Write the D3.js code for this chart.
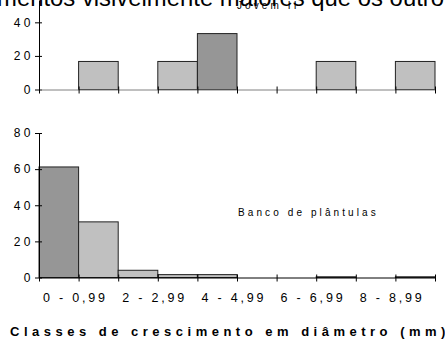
<!DOCTYPE html>
<html>
<head>
<meta charset="utf-8">
<script src="https://cdn.jsdelivr.net/npm/d3@7"></script>
<style>
  body { margin: 0; background: #fff; }
  svg { display: block; font-family: "Liberation Sans", Arial, sans-serif; }
</style>
</head>
<body>
<div id="chart"></div>
<script>
// diameter growth classes (mm)
const classes = ["0 - 0,99", "1 - 1,99", "2 - 2,99", "3 - 3,99", "4 - 4,99",
                 "5 - 5,99", "6 - 6,99", "7 - 7,99", "8 - 8,99", "9 - 9,99"];
// only every second class gets a label
const shownLabels = ["0 - 0,99", "2 - 2,99", "4 - 4,99", "6 - 6,99", "8 - 8,99"];

// percentages per class
const jovemII   = [0, 16.7, 0, 16.7, 33.3, 0, 0, 16.7, 0, 16.7];
const plantulas = [61.2, 30.8, 4.0, 1.6, 1.6, 0, 0, 0.4, 0, 0.4];

// which bar is shaded dark in each panel
const darkJovem = "4 - 4,99";
const darkBanco = "0 - 0,99";

const topTicks = [0, 20, 40];
const bottomTicks = [0, 20, 40, 60, 80];

const width = 445, height = 339;
const light = "#c0c0c0", dark = "#969696";

const svg = d3.select("#chart").append("svg")
    .attr("width", width)
    .attr("height", height);

// text of the page behind the figure, cut at the top
svg.append("text")
    .attr("x", -3)
    .attr("y", 6)
    .attr("textLength", 447)
    .attr("lengthAdjust", "spacingAndGlyphs")
    .style("font-size", "23px")
    .style("fill", "#000")
    .text("mentos visivelmente maiores que os outro");

const x = d3.scaleBand().domain(classes).range([39, 435]).paddingInner(0).paddingOuter(0);
const xEdge = d3.scaleLinear().domain([0, classes.length]).range([39, 435]);

function panel(values, darkCls, y, ticks, axisColor, titleText, titlePos) {
    const g = svg.append("g");
    const data = classes.map((c, i) => ({ cls: c, value: values[i] }));

    g.selectAll("rect.bar")
        .data(data.filter(d => d.value > 0))
        .enter().append("rect")
        .attr("class", "bar")
        .attr("x", d => x(d.cls))
        .attr("width", x.bandwidth())
        .attr("y", d => y(d.value))
        .attr("height", d => y(0) - y(d.value))
        .style("fill", d => d.cls === darkCls ? dark : light)
        .style("stroke", "#222")
        .style("stroke-width", 1);

    // y axis
    const yAxis = g.append("g")
        .attr("transform", "translate(39,0)")
        .call(d3.axisLeft(y).tickValues(ticks).tickSize(4).tickPadding(6).tickSizeOuter(0));
    yAxis.select(".domain").attr("stroke", "#000");
    yAxis.selectAll(".tick line").attr("x1", 3).attr("stroke", "#000");
    yAxis.selectAll(".tick text")
        .style("font-size", "12px")
        .style("letter-spacing", "3.5px")
        .attr("x", -5)
        .style("fill", "#000");

    // x axis at zero
    const xAxis = g.append("g")
        .attr("transform", "translate(0," + y(0) + ")")
        .call(d3.axisBottom(xEdge).tickValues(d3.range(classes.length + 1)).tickFormat("").tickSize(4).tickSizeOuter(0));
    xAxis.select(".domain").attr("stroke", axisColor);
    xAxis.selectAll(".tick line").attr("y1", -3).attr("stroke", "#000");

    g.append("text")
        .attr("x", titlePos[0])
        .attr("y", titlePos[1])
        .style("font-size", "10px")
        .style("letter-spacing", "3.1px")
        .style("fill", "#000")
        .text(titleText);
    return g;
}

const yTop = d3.scaleLinear().domain([0, 53.3]).range([89.5, 0]);
const yBottom = d3.scaleLinear().domain([0, 80]).range([277.5, 133]);

panel(jovemII, darkJovem, yTop, topTicks, "#808080", "Jovem II", [237, 9]);
const bottom = panel(plantulas, darkBanco, yBottom, bottomTicks, "#000", "Banco de plântulas", [238, 216]);

// category labels under the lower panel
bottom.selectAll("text.cat")
    .data(shownLabels)
    .enter().append("text")
    .attr("class", "cat")
    .attr("x", d => x(d) + 4)
    .attr("y", 302)
    .style("font-size", "12.5px")
    .style("letter-spacing", "2.8px")
    .style("fill", "#000")
    .text(d => d);

svg.append("text")
    .attr("x", 10)
    .attr("y", 336)
    .style("font-size", "13px")
    .style("font-weight", "bold")
    .style("letter-spacing", "4.5px")
    .style("fill", "#000")
    .text("Classes de crescimento em diâmetro (mm)");
</script>
</body>
</html>
